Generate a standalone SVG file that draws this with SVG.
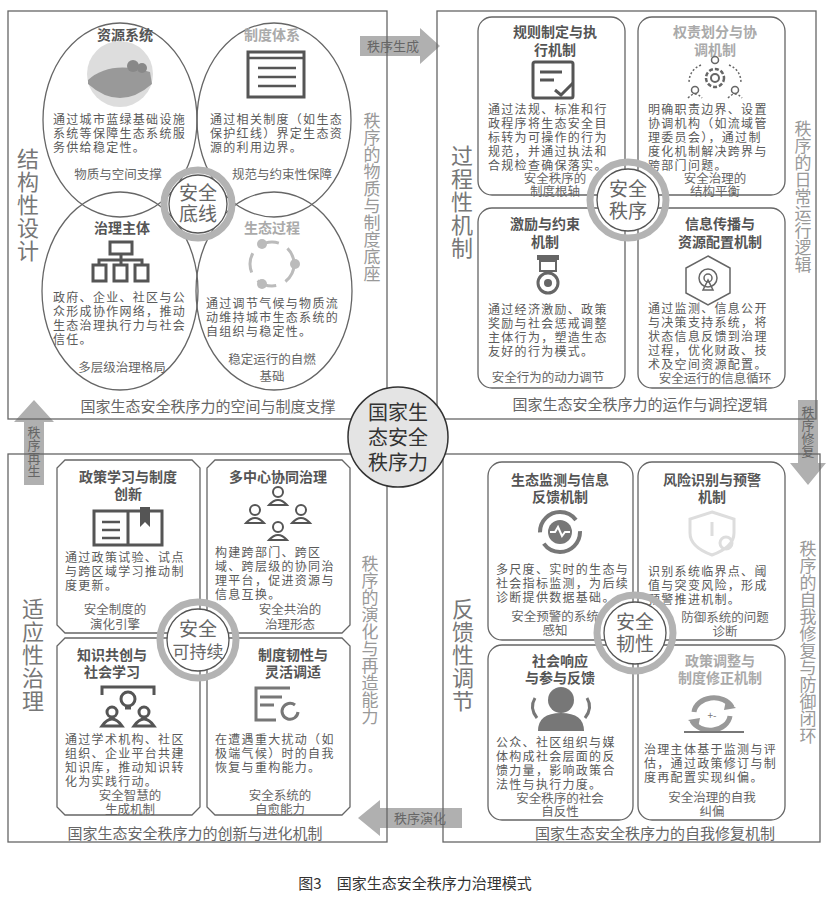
<svg xmlns="http://www.w3.org/2000/svg" width="830" height="902" viewBox="0 0 830 902">
<style>
text{font-family:"Noto Sans CJK SC","Noto Sans",sans-serif;fill:#555}
.b{font-size:12px;fill:#5a5a5a;letter-spacing:1.3px}
.t{font-size:14px;text-anchor:middle;fill:#555;font-weight:bold}
.tl{font-size:14px;text-anchor:middle;fill:#aaa;font-weight:bold}
.s{font-size:12.5px;text-anchor:middle;fill:#666}
.cap{font-size:15px;text-anchor:middle;fill:#666}
.v{font-size:22px;writing-mode:tb;text-anchor:middle;fill:#777;letter-spacing:1px}
.vr{font-size:17px;writing-mode:tb;text-anchor:middle;fill:#999}
.q{fill:none;stroke:#666;stroke-width:1.3}
.box{fill:#fff;stroke:#666;stroke-width:1.3}
.ring{fill:none;stroke:#b3b3b3;stroke-width:7}
.rin{fill:#fff;stroke:#555;stroke-width:1.3}
.rt{font-size:19px;text-anchor:middle;fill:#666}
.ic{fill:none;stroke:#555;stroke-width:3}
.arw{fill:#b0b0b0}
.at{font-size:13px;fill:#666;text-anchor:middle}
</style>
<rect width="830" height="902" fill="#fff"/>
<g id="connectors">
<path class="arw" d="M360 36H420V28L440 46L420 64V56H360Z"/>
<text class="at" x="393" y="51">秩序生成</text>
<path class="arw" d="M798 400H818V463H826L808 485L790 463H798Z"/>
<text class="at" x="808" y="432" style="writing-mode:tb">秩序修复</text>
<path class="arw" d="M462 808H380V800L358 818L380 836V828H462Z"/>
<text class="at" x="420" y="823">秩序演化</text>
<path class="arw" d="M24 485V422H14L34 400L54 422H44V485Z"/>
<text class="at" x="34" y="452" style="writing-mode:tb">秩序再生</text>
</g>

<g id="q1">
<rect class="q" x="8" y="11" width="379" height="408"/>
<ellipse class="q" cx="120" cy="120" rx="77" ry="97"/>
<ellipse class="q" cx="274" cy="120" rx="77" ry="97"/>
<ellipse class="q" cx="120" cy="291" rx="78" ry="99"/>
<ellipse class="q" cx="274" cy="291" rx="78" ry="99"/>
<text class="t" x="125" y="40">资源系统</text>
<text class="tl" x="272" y="40">制度体系</text>
<circle cx="120" cy="74" r="33" fill="#ddd"/>
<path d="M88 80Q110 60 150 72L152 84Q120 112 88 84Z" fill="#999"/>
<circle cx="133" cy="66" r="6" fill="#888"/><circle cx="142" cy="68" r="5" fill="#888"/>
<rect x="248" y="52" width="56" height="45" fill="none" stroke="#555" stroke-width="3"/>
<path d="M248 58H304M258 68H296M258 77H296M258 86H296" stroke="#555" stroke-width="2.5"/>
<text class="b" x="53" y="124">通过城市蓝绿基础设施</text>
<text class="b" x="53" y="138">系统等保障生态系统服</text>
<text class="b" x="53" y="152">务供给稳定性。</text>
<text class="b" x="210" y="124">通过相关制度（如生态</text>
<text class="b" x="210" y="138">保护红线）界定生态资</text>
<text class="b" x="210" y="152">源的利用边界。</text>
<text class="s" x="118" y="179">物质与空间支撑</text>
<text class="s" x="282" y="179">规范与约束性保障</text>
<text class="t" x="122" y="233">治理主体</text>
<path class="ic" d="M110 242h22v12h-22zM93 265h13v16h-13zM114 265h13v16h-13zM135 265h13v16h-13zM121 254v6M99 265v-5h43v5M121 260v5" stroke-width="2.5"/>
<text class="tl" x="272" y="233">生态过程</text>
<circle cx="272" cy="264" r="22" fill="none" stroke="#bbb" stroke-width="3" stroke-dasharray="20 10"/>
<circle cx="262" cy="244" r="5" fill="#bbb"/><circle cx="295" cy="264" r="5" fill="#bbb"/><circle cx="262" cy="284" r="5" fill="#bbb"/>
<text class="b" x="53" y="302">政府、企业、社区与公</text>
<text class="b" x="53" y="316">众形成协作网络，推动</text>
<text class="b" x="53" y="330">生态治理执行力与社会</text>
<text class="b" x="53" y="344">信任。</text>
<text class="b" x="206" y="308">通过调节气候与物质流</text>
<text class="b" x="206" y="322">动维持城市生态系统的</text>
<text class="b" x="206" y="336">自组织与稳定性。</text>
<text class="s" x="122" y="372">多层级治理格局</text>
<text class="s" x="272" y="364">稳定运行的自燃</text>
<text class="s" x="272" y="381">基础</text>
<circle class="ring" cx="198" cy="204" r="34"/>
<circle class="rin" cx="198" cy="204" r="29"/>
<text class="rt" x="198" y="200">安全</text>
<text class="rt" x="198" y="221">底线</text>
<text class="cap" x="208" y="412">国家生态安全秩序力的空间与制度支撑</text>
<text class="v" x="28" y="205">结构性设计</text>
<text class="vr" x="372" y="197">秩序的物质与制度底座</text>
</g>

<g id="q2">
<rect class="q" x="437" y="11" width="379" height="408"/>
<rect class="box" x="478" y="17" width="147" height="178" rx="14"/>
<rect class="box" x="638" y="17" width="147" height="178" rx="14"/>
<rect class="box" x="478" y="208" width="147" height="180" rx="14"/>
<rect class="box" x="638" y="208" width="147" height="180" rx="14"/>
<text class="t" x="555" y="37">规则制定与执</text>
<text class="t" x="555" y="55">行机制</text>
<rect class="ic" x="533" y="62" width="40" height="36" rx="2" stroke-width="2.5"/>
<path d="M540 72h22M540 80h14M555 90l6 5 12-12" class="ic" stroke-width="2.5"/>
<text class="b" x="488" y="114">通过法规、标准和行</text>
<text class="b" x="488" y="128">政程序将生态安全目</text>
<text class="b" x="488" y="142">标转为可操作的行为</text>
<text class="b" x="488" y="156">规范，并通过执法和</text>
<text class="b" x="488" y="170">合规检查确保落实。</text>
<text class="s" x="555" y="183">安全秩序的</text>
<text class="s" x="555" y="196">制度根轴</text>
<text class="tl" x="715" y="37">权责划分与协</text>
<text class="tl" x="715" y="55">调机制</text>
<circle cx="715" cy="78" r="9" fill="none" stroke="#666" stroke-width="2.5" stroke-dasharray="4 2"/>
<circle cx="715" cy="78" r="4" fill="none" stroke="#666" stroke-width="2"/>
<circle cx="715" cy="60" r="3.5" fill="none" stroke="#666" stroke-width="1.5"/><circle cx="695" cy="90" r="3.5" fill="none" stroke="#666" stroke-width="1.5"/><circle cx="735" cy="90" r="3.5" fill="none" stroke="#666" stroke-width="1.5"/>
<path d="M688 98q7-8 14 0M728 98q7-8 14 0M701 65q-12 5-12 18M729 65q12 5 12 18" fill="none" stroke="#666" stroke-width="1.5" stroke-dasharray="2 2"/>
<text class="b" x="648" y="114">明确职责边界、设置</text>
<text class="b" x="648" y="128">协调机构（如流域管</text>
<text class="b" x="648" y="142">理委员会），通过制</text>
<text class="b" x="648" y="156">度化机制解决跨界与</text>
<text class="b" x="648" y="170">跨部门问题。</text>
<text class="s" x="715" y="183">安全治理的</text>
<text class="s" x="715" y="196">结构平衡</text>
<text class="t" x="545" y="229">激励与约束</text>
<text class="t" x="545" y="247">机制</text>
<rect x="537" y="255" width="22" height="5" fill="#666"/>
<rect x="540" y="261" width="16" height="10" fill="none" stroke="#666" stroke-width="2"/>
<circle cx="548" cy="283" r="10" fill="none" stroke="#666" stroke-width="3"/>
<circle cx="548" cy="283" r="4" fill="#666"/>
<text class="b" x="488" y="314">通过经济激励、政策</text>
<text class="b" x="488" y="328">奖励与社会惩戒调整</text>
<text class="b" x="488" y="342">主体行为，塑造生态</text>
<text class="b" x="488" y="356">友好的行为模式。</text>
<text class="s" x="548" y="382">安全行为的动力调节</text>
<text class="t" x="720" y="229">信息传播与</text>
<text class="t" x="720" y="247">资源配置机制</text>
<path d="M708 256l22 12v25l-22 12-22-12v-25z" fill="none" stroke="#666" stroke-width="1.5"/>
<circle cx="708" cy="278" r="9" fill="none" stroke="#666" stroke-width="1.5"/>
<circle cx="708" cy="278" r="4" fill="none" stroke="#666" stroke-width="1.5"/>
<path d="M708 280l-5 10h10z" fill="none" stroke="#666" stroke-width="1.5"/>
<text class="b" x="648" y="313">通过监测、信息公开</text>
<text class="b" x="648" y="327">与决策支持系统，将</text>
<text class="b" x="648" y="341">状态信息反馈到治理</text>
<text class="b" x="648" y="355">过程，优化财政、技</text>
<text class="b" x="648" y="369">术及空间资源配置。</text>
<text class="s" x="715" y="383">安全运行的信息循环</text>
<circle class="ring" cx="628" cy="200" r="38"/>
<circle class="rin" cx="628" cy="200" r="31"/>
<text class="rt" x="628" y="196">安全</text>
<text class="rt" x="628" y="218">秩序</text>
<text class="cap" x="640" y="410">国家生态安全秩序力的运作与调控逻辑</text>
<text class="v" x="462" y="202">过程性机制</text>
<text class="vr" x="803" y="197">秩序的日常运行逻辑</text>
</g>

<g id="q3">
<rect class="q" x="8" y="454" width="379" height="388"/>
<path class="box" d="M65 460H192L200 468V625L192 633H65L57 625V468Z"/>
<path class="box" d="M215 460H342L350 468V625L342 633H215L207 625V468Z"/>
<path class="box" d="M65 638H192L200 646V807L192 815H65L57 807V646Z"/>
<path class="box" d="M215 638H342L350 646V807L342 815H215L207 807V646Z"/>
<text class="t" x="128" y="482">政策学习与制度</text>
<text class="t" x="128" y="499">创新</text>
<path d="M94 511h34v34h-34zM128 511h34v34h-34z" fill="none" stroke="#555" stroke-width="3"/>
<path d="M102 522h18M102 530h18M102 538h18" stroke="#555" stroke-width="2.5"/>
<path d="M140 507v20l5-5 5 5v-20z" fill="#555"/>
<text class="b" x="65" y="562">通过政策试验、试点</text>
<text class="b" x="65" y="576">与跨区域学习推动制</text>
<text class="b" x="65" y="590">度更新。</text>
<text class="s" x="115" y="614">安全制度的</text>
<text class="s" x="115" y="629">演化引擎</text>
<text class="t" x="278" y="482">多中心协同治理</text>
<g fill="none" stroke="#555" stroke-width="2">
<circle cx="278" cy="492" r="5"/><path d="M269 505q9-10 18 0z"/>
<circle cx="255" cy="510" r="5"/><path d="M246 523q9-10 18 0z"/>
<circle cx="301" cy="510" r="5"/><path d="M292 523q9-10 18 0z"/>
<circle cx="278" cy="527" r="5"/><path d="M269 540q9-10 18 0z"/>
</g>
<text class="b" x="215" y="557">构建跨部门、跨区</text>
<text class="b" x="215" y="571">域、跨层级的协同治</text>
<text class="b" x="215" y="585">理平台，促进资源与</text>
<text class="b" x="215" y="599">信息互换。</text>
<text class="s" x="290" y="614">安全共治的</text>
<text class="s" x="290" y="629">治理形态</text>
<text class="t" x="112" y="660">知识共创与</text>
<text class="t" x="112" y="677">社会学习</text>
<g fill="none" stroke="#555" stroke-width="3">
<path d="M102 695v-8h52v8"/><circle cx="128" cy="699" r="7"/><path d="M125 708h6"/>
<circle cx="112" cy="712" r="5"/><path d="M102 726q10-14 20 0z"/>
<circle cx="144" cy="712" r="5"/><path d="M134 726q10-14 20 0z"/>
</g>
<text class="b" x="65" y="744">通过学术机构、社区</text>
<text class="b" x="65" y="758">组织、企业平台共建</text>
<text class="b" x="65" y="772">知识库，推动知识转</text>
<text class="b" x="65" y="786">化为实践行动。</text>
<text class="s" x="130" y="800">安全智慧的</text>
<text class="s" x="130" y="814">生成机制</text>
<text class="t" x="293" y="660">制度韧性与</text>
<text class="t" x="293" y="677">灵活调适</text>
<path d="M290 688h-34v32h20M260 697h22M260 705h14" fill="none" stroke="#777" stroke-width="3"/>
<path d="M298 712a8 8 0 1 1-3-7" fill="none" stroke="#777" stroke-width="3"/>
<text class="b" x="215" y="744">在遭遇重大扰动（如</text>
<text class="b" x="215" y="758">极端气候）时的自我</text>
<text class="b" x="215" y="772">恢复与重构能力。</text>
<text class="s" x="280" y="800">安全系统的</text>
<text class="s" x="280" y="814">自愈能力</text>
<circle class="ring" cx="198" cy="640" r="38"/>
<circle class="rin" cx="198" cy="640" r="31"/>
<text class="rt" x="198" y="636">安全</text>
<text class="rt" x="198" y="658" style="font-size:17px">可持续</text>
<text class="cap" x="195" y="839">国家生态安全秩序力的创新与进化机制</text>
<text class="v" x="33" y="655">适应性治理</text>
<text class="vr" x="370" y="640">秩序的演化与再造能力</text>
</g>

<g id="q4">
<rect class="q" x="443" y="454" width="377" height="388"/>
<rect class="box" x="488" y="462" width="145" height="178" rx="14"/>
<rect class="box" x="638" y="462" width="147" height="178" rx="14"/>
<rect class="box" x="488" y="645" width="145" height="175" rx="14"/>
<rect class="box" x="638" y="645" width="147" height="175" rx="14"/>
<text class="t" x="560" y="485">生态监测与信息</text>
<text class="t" x="560" y="502">反馈机制</text>
<circle cx="560" cy="532" r="20" fill="none" stroke="#777" stroke-width="4" stroke-dasharray="50 12"/>
<circle cx="560" cy="532" r="12" fill="#777"/>
<path d="M550 532h5l3-5 4 9 3-4h5" fill="none" stroke="#fff" stroke-width="2"/>
<text class="b" x="496" y="574">多尺度、实时的生态与</text>
<text class="b" x="496" y="588">社会指标监测，为后续</text>
<text class="b" x="496" y="602">诊断提供数据基础。</text>
<text class="s" x="555" y="621">安全预警的系统</text>
<text class="s" x="555" y="635">感知</text>
<text class="t" x="712" y="485">风险识别与预警</text>
<text class="t" x="712" y="502">机制</text>
<path d="M712 512l22 7v14q0 14-22 22q-22-8-22-22v-14z" fill="none" stroke="#ddd" stroke-width="3"/>
<path d="M712 522v14" stroke="#ddd" stroke-width="3"/>
<circle cx="726" cy="543" r="6" fill="none" stroke="#ddd" stroke-width="3"/>
<text class="b" x="648" y="576">识别系统临界点、阈</text>
<text class="b" x="648" y="590">值与突变风险，形成</text>
<text class="b" x="648" y="604">预警推进机制。</text>
<text class="s" x="725" y="622">防御系统的问题</text>
<text class="s" x="725" y="636">诊断</text>
<text class="t" x="560" y="666">社会响应</text>
<text class="t" x="560" y="683">与参与反馈</text>
<circle cx="561" cy="700" r="13" fill="#777"/>
<path d="M538 731q0-18 23-18q23 0 23 18z" fill="#777"/>
<path d="M535 698q-6 10 2 20M587 698q6 10-2 20" fill="none" stroke="#777" stroke-width="3"/>
<text class="b" x="496" y="747">公众、社区组织与媒</text>
<text class="b" x="496" y="761">体构成社会层面的反</text>
<text class="b" x="496" y="775">馈力量，影响政策合</text>
<text class="b" x="496" y="789">法性与执行力度。</text>
<text class="s" x="560" y="803">安全秩序的社会</text>
<text class="s" x="560" y="816">自反性</text>
<text class="tl" x="720" y="666">政策调整与</text>
<text class="tl" x="720" y="683">制度修正机制</text>
<path d="M694 712a20 16 0 0 1 38-5" fill="none" stroke="#999" stroke-width="5"/>
<path d="M730 716a20 16 0 0 1-38 5" fill="none" stroke="#999" stroke-width="5"/>
<path d="M726 700l10 8-12 2zM698 728l-10-8 12-2z" fill="#999"/>
<text x="712" y="719" style="font-size:10px;text-anchor:middle;fill:#777">+-</text>
<path d="M684 732h60" stroke="#777" stroke-width="2"/>
<text class="b" x="644" y="754">治理主体基于监测与评</text>
<text class="b" x="644" y="768">估，通过政策修订与制</text>
<text class="b" x="644" y="782">度再配置实现纠偏。</text>
<text class="s" x="712" y="802">安全治理的自我</text>
<text class="s" x="712" y="816">纠偏</text>
<circle class="ring" cx="635" cy="633" r="38"/>
<circle class="rin" cx="635" cy="633" r="31"/>
<text class="rt" x="635" y="629">安全</text>
<text class="rt" x="635" y="651">韧性</text>
<text class="cap" x="655" y="839">国家生态安全秩序力的自我修复机制</text>
<text class="v" x="463" y="655">反馈性调节</text>
<text class="vr" x="808" y="642">秩序的自我修复与防御闭环</text>
</g>

<g id="center">
<circle cx="398" cy="437" r="50" fill="#e4e4e4" stroke="#333" stroke-width="1.5"/>
<text x="398" y="420" style="font-size:20px;text-anchor:middle;fill:#333">国家生</text>
<text x="398" y="445" style="font-size:20px;text-anchor:middle;fill:#333">态安全</text>
<text x="398" y="470" style="font-size:20px;text-anchor:middle;fill:#333">秩序力</text>
</g>
<text x="415" y="889" style="font-size:15px;text-anchor:middle;fill:#333">图3　国家生态安全秩序力治理模式</text>
</svg>
